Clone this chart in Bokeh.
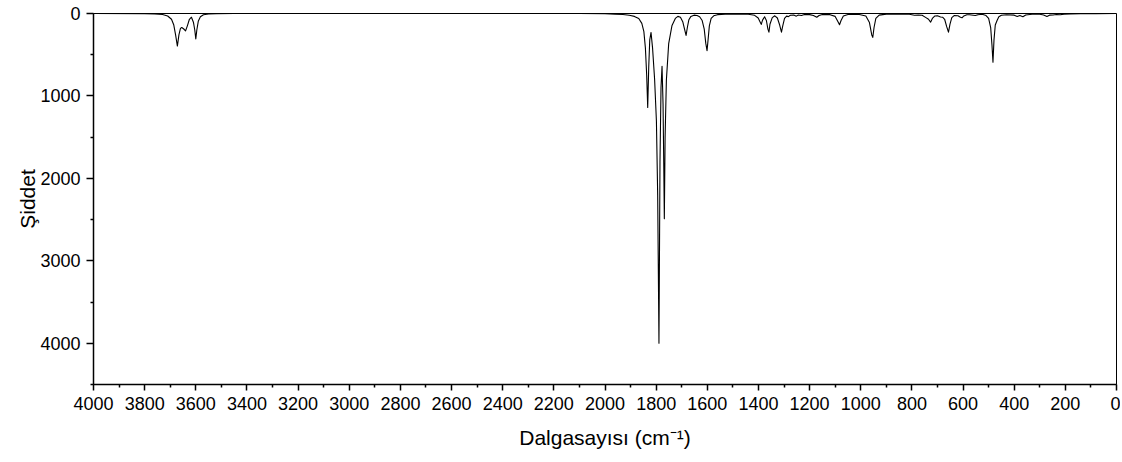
from bokeh.plotting import figure
from bokeh.models import Range1d, FixedTicker
from bokeh.embed import file_html
from bokeh.resources import INLINE

# Spectrum (wavenumber in cm^-1, intensity)
wavenumber = [
    4000, 3800, 3760, 3730, 3710, 3695, 3686, 3679, 3672, 3666, 3660, 3655,
    3648, 3640, 3633, 3625, 3617, 3609, 3604, 3600, 3596, 3590, 3582, 3570,
    3550, 3520, 3450,
    2100, 2000, 1960, 1930, 1905, 1885, 1868, 1856, 1848, 1842, 1837, 1833,
    1829, 1825, 1820, 1814, 1806, 1799, 1794, 1789, 1785, 1781, 1777, 1773,
    1770, 1768, 1765, 1760, 1751, 1738, 1725, 1715, 1705, 1696, 1689, 1683,
    1678, 1672, 1664, 1652, 1640, 1630, 1620, 1612, 1606, 1601, 1597, 1592,
    1585, 1575, 1560, 1530, 1480, 1440, 1415, 1401, 1394, 1389, 1384, 1376,
    1369, 1363, 1359, 1355, 1346, 1336, 1326, 1317, 1310, 1305, 1298, 1290,
    1283, 1275, 1262, 1252, 1244, 1232, 1220, 1200, 1185, 1172, 1163, 1150,
    1120, 1100, 1090, 1083, 1077, 1068, 1050, 1010, 980, 966, 957, 953,
    948, 941, 928, 900, 850, 810, 790, 775, 760, 745, 735, 727,
    720, 710, 700, 688, 680, 672, 664, 657, 651, 644, 635, 620,
    610, 604, 597, 585, 575, 560, 552, 542, 525, 510, 500, 492,
    487, 483, 479, 474, 467, 460, 450, 430, 400, 388, 378, 366,
    355, 330, 300, 285, 272, 262, 248, 235, 220, 205, 180, 140,
    80, 0,
]
intensity = [
    0, 1, 4, 12, 30, 70, 140, 260, 395, 260, 180, 170,
    185, 210, 150, 70, 45, 110, 200, 310, 200, 90, 40, 15,
    6, 2, 0,
    0, 3, 7, 12, 22, 35, 60, 120, 220, 420, 750, 1140,
    650, 320, 230, 420, 800, 1300, 2200, 4000, 1800, 900, 640, 1100,
    1900, 2490, 1500, 810, 365, 145, 60, 35, 45, 100, 190, 265,
    170, 75, 35, 20, 25, 40, 85, 190, 360, 450, 320, 150,
    60, 28, 14, 7, 6, 10, 22, 55, 100, 132, 80, 40,
    85, 190, 226, 130, 50, 28, 55, 140, 226, 150, 60, 32,
    38, 22, 18, 32, 18, 24, 12, 14, 25, 46, 24, 11,
    14, 35, 95, 137, 85, 30, 12, 10, 30, 110, 260, 290,
    170, 60, 20, 8, 6, 10, 22, 18, 22, 50, 70, 105,
    60, 30, 28, 42, 45, 70, 160, 226, 130, 50, 25, 28,
    45, 52, 30, 16, 16, 22, 25, 15, 10, 25, 60, 170,
    380, 590, 320, 140, 85, 40, 22, 15, 20, 36, 25, 40,
    18, 10, 10, 18, 36, 20, 18, 12, 15, 8, 5, 3,
    1, 0,
]

x_major = list(range(4000, -1, -200))
x_minor = list(range(3900, 0, -200))
y_major = [0, 1000, 2000, 3000, 4000]
y_minor = [500, 1500, 2500, 3500, 4500]

FONT = "Liberation Sans"

p = figure(
    width=1120, height=458,
    x_range=Range1d(4000, 0), y_range=Range1d(4500, 0),
    output_backend="svg", toolbar_location=None,
    min_border_left=93, min_border_right=4, min_border_top=13, min_border_bottom=74,
)
p.background_fill_color = "white"
p.border_fill_color = "white"
p.outline_line_color = "black"
p.outline_line_width = 1
p.grid.visible = False

p.line(wavenumber, intensity, line_color="black", line_width=1.1, line_join="round")

for ax in (p.xaxis[0], p.yaxis[0]):
    ax.axis_line_color = "black"
    ax.axis_line_width = 1.5
    ax.major_tick_line_color = "black"
    ax.major_tick_line_width = 1.5
    ax.minor_tick_line_color = "black"
    ax.minor_tick_line_width = 1.5
    ax.major_tick_in = 0
    ax.minor_tick_in = 0
    ax.major_label_text_font = FONT
    ax.major_label_text_font_size = "18px"
    ax.major_label_text_color = "black"
    ax.axis_label_text_font = FONT
    ax.axis_label_text_font_size = "21px"
    ax.axis_label_text_font_style = "normal"
    ax.axis_label_text_color = "black"

p.xaxis[0].ticker = FixedTicker(ticks=x_major, minor_ticks=x_minor)
p.yaxis[0].ticker = FixedTicker(ticks=y_major, minor_ticks=y_minor)
p.xaxis[0].major_tick_out = 6
p.xaxis[0].minor_tick_out = 3
p.yaxis[0].major_tick_out = 7
p.yaxis[0].minor_tick_out = 3
p.xaxis[0].major_label_standoff = 6
p.yaxis[0].major_label_standoff = 6
p.xaxis[0].axis_label = "Dalgasayısı (cm⁻¹)"
p.yaxis[0].axis_label = "Şiddet"
p.xaxis[0].axis_label_standoff = 13
p.yaxis[0].axis_label_standoff = -2

open("out.html", "w").write(file_html(p, INLINE))
